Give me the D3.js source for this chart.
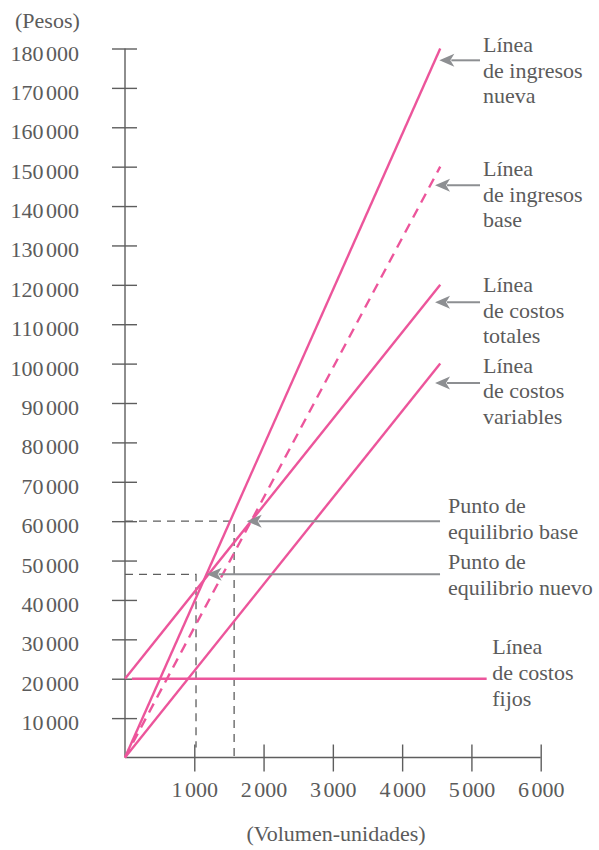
<!DOCTYPE html>
<html><head><meta charset="utf-8">
<script src="https://cdn.jsdelivr.net/npm/d3@7"></script>
<style>body{margin:0;background:#fff}svg{display:block}text{font-family:"Liberation Serif","Times New Roman",serif;fill:#5b5b5b}</style>
</head><body>
<script>
// ---- data ----
const yTicks = [10000,20000,30000,40000,50000,60000,70000,80000,90000,100000,110000,120000,130000,140000,150000,160000,170000,180000];
const xTicks = [1000,2000,3000,4000,5000,6000];
const lineNames = ["ingresosNueva","ingresosBase","costosTotales","costosVariables","costosFijos"];
const lineStart = [[0,0],[0,0],[0,20000],[0,0],[100,20000]];
const lineEnd   = [[4550,180000],[4550,150000],[4550,120000],[4550,100000],[5220,20000]];
const lineDashed = [false,true,false,false,false];
// break-even guide points (units, pesos)
const breakEvenBase = [1575,60000];
const breakEvenNew  = [1025,46500];
// annotation arrows: tip (units,pesos), tail units
const arrowTipX = [4537,4475,4475,4475,1757,1179];
const arrowTipY = [177000,145300,115600,95100,60000,46500];
const arrowTailX = [5124,5124,5124,5124,4547,4547];
const labelText = [
  ["Línea","de ingresos","nueva"],
  ["Línea","de ingresos","base"],
  ["Línea","de costos","totales"],
  ["Línea","de costos","variables"],
  ["Punto de","equilibrio base"],
  ["Punto de","equilibrio nuevo"]
];
const fixedLabel = ["Línea","de costos","fijos"];
const fixedLabelAt = [5300,20000];

// ---- layout ----
const W=599,H=850;
const x=d3.scaleLinear().domain([0,6000]).range([125,540.7]);
const y=d3.scaleLinear().domain([0,180000]).range([757.5,48.5]);
const PINK="#ec559b", AX="#5e5e5e", ARR="#8d8f92";
// number with thin gap between thousands groups
function numText(sel){
  sel.each(function(d){
    const t=d3.select(this); t.text(null);
    const s=d3.format(",")(d).split(",");
    s.forEach((g,i)=>t.append("tspan").attr("dx",i?2.5:null).text(g));
  });
}

const svg=d3.select("body").append("svg").attr("width",W).attr("height",H);

// y axis
const yAxis=svg.append("g").attr("transform",`translate(${x(0)},0)`)
  .call(d3.axisLeft(y).tickValues(yTicks).tickSizeInner(13).tickSizeOuter(0));
yAxis.select(".domain").attr("d",`M0,${y(180000)}V${y(0)}`);
yAxis.selectAll(".tick line").attr("x2",12).attr("x1",-13);
yAxis.selectAll(".tick text").attr("x",79-125).attr("dy",null).attr("y",11.5).attr("text-anchor","end").call(numText);
yAxis.attr("font-size",null).attr("font-family",null);
yAxis.selectAll("text").style("font-size","22px").attr("fill","#5b5b5b");
yAxis.selectAll("line,path").attr("stroke",AX).attr("stroke-width",1.4);

// x axis
const xAxis=svg.append("g").attr("transform",`translate(0,${y(0)})`)
  .call(d3.axisBottom(x).tickValues(xTicks).tickSizeInner(14).tickSizeOuter(0));
xAxis.select(".domain").attr("d",`M${x(0)},0H${x(6000)}`);
xAxis.selectAll(".tick line").attr("y1",-13).attr("y2",14);
xAxis.selectAll(".tick text").attr("y",39).attr("dy",null).call(numText);
xAxis.attr("font-size",null).attr("font-family",null);
xAxis.selectAll("text").style("font-size","22px").attr("fill","#5b5b5b");
xAxis.selectAll("line,path").attr("stroke",AX).attr("stroke-width",1.4);

// dashed guides
const guide=(p,len)=>svg.append("path")
  .attr("d",`M${x(0)},${y(p[1])}H${x(p[0])}V${y(0)-len}`)
  .attr("fill","none").attr("stroke",AX).attr("stroke-width",1.3).attr("stroke-dasharray","8,6");
guide(breakEvenBase,0);
guide(breakEvenNew,10);

// lines
svg.append("g").selectAll("line").data(lineNames).join("line")
  .attr("x1",(d,i)=>x(lineStart[i][0])).attr("y1",(d,i)=>y(lineStart[i][1]))
  .attr("x2",(d,i)=>x(lineEnd[i][0])).attr("y2",(d,i)=>y(lineEnd[i][1]))
  .attr("stroke",PINK).attr("stroke-width",2.4)
  .attr("stroke-dasharray",(d,i)=>lineDashed[i]?"10,7":null);

// arrows
svg.append("g").selectAll("line").data(arrowTipX).join("line")
  .attr("x1",(d,i)=>x(arrowTailX[i])).attr("y1",(d,i)=>y(arrowTipY[i]))
  .attr("x2",(d,i)=>x(arrowTipX[i])+12).attr("y2",(d,i)=>y(arrowTipY[i]))
  .attr("stroke",ARR).attr("stroke-width",2);
svg.append("g").selectAll("path").data(arrowTipX).join("path")
  .attr("transform",(d,i)=>`translate(${x(arrowTipX[i])},${y(arrowTipY[i])})`)
  .attr("d","M0,0 L15,-6.5 L11,0 L15,6.5 Z").attr("fill",ARR);

// labels
const lblDx=[3,3,3,3,8,8], lblDy=[-8,-9,-10,-10,-8,-5];
labelText.forEach((lines,i)=>{
  const t=svg.append("text").style("font-size","22px")
    .attr("x",x(arrowTailX[i])+lblDx[i]).attr("y",y(arrowTipY[i])+lblDy[i]);
  lines.forEach((s,j)=>t.append("tspan").attr("x",x(arrowTailX[i])+lblDx[i]).attr("dy",j?25.5:0).text(s));
});
{
  const t=svg.append("text").style("font-size","22px").attr("x",x(fixedLabelAt[0])).attr("y",y(fixedLabelAt[1])-25);
  fixedLabel.forEach((s,j)=>t.append("tspan").attr("x",x(fixedLabelAt[0])).attr("dy",j?26:0).text(s));
}

// titles
svg.append("text").attr("x",15).attr("y",28).style("font-size","22px").text("(Pesos)");
svg.append("text").attr("x",336).attr("y",841).attr("text-anchor","middle").style("font-size","22px").text("(Volumen-unidades)");
</script>
</body></html>
